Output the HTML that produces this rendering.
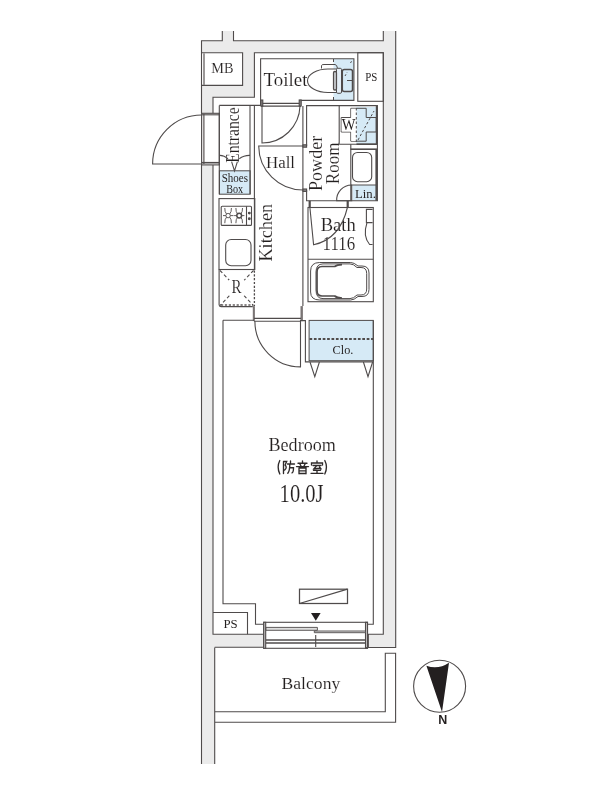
<!DOCTYPE html>
<html><head><meta charset="utf-8"><style>
html,body{margin:0;padding:0;background:#fff;width:600px;height:800px;overflow:hidden}
svg{display:block;will-change:transform}
text{font-family:"Liberation Serif",serif;fill:#231f1f}
text.t{stroke:#fff;stroke-width:0.12px}
</style></head><body>
<svg width="600" height="800" viewBox="0 0 600 800">
<g id="fills">
<path fill="#ebebeb" d="M201.5,40.8H222.3V31H233.5V40.8H383.3V31H395.7V647.5H368.3V634.2H383.3V52.7H254.4V97.3H213V634.2H263.7V647.5H214.7V764H201.5Z"/>
<rect x="201.5" y="52.7" width="41.1" height="32.7" fill="#fff"/>
<rect x="201.5" y="113.3" width="17.8" height="51.6" fill="#fff"/>
</g>
<!-- blue fills -->
<g fill="#d6eaf6" stroke="#4f4b4b" stroke-width="1">
<rect x="219.4" y="170.8" width="30.8" height="23.4"/>
<rect x="309.1" y="320.4" width="64.2" height="40.3"/>
<rect x="352.5" y="185" width="24.5" height="15.3" stroke="none"/>
<line x1="351" y1="185" x2="377" y2="185" stroke-width="1"/>
<rect x="333.5" y="59" width="20.4" height="41.4" stroke="none"/>
<rect x="356.3" y="107" width="20.4" height="36.8" stroke="none"/>
</g>
<g fill="none" stroke="#4f4b4b" stroke-width="1.1">
<!-- outer lines -->
<path d="M222.3,31V40.8H201.5V113.3M201.5,164.9V764"/>
<path d="M233.5,31V40.8H383.3V31"/>
<path d="M395.7,31V647.5H368.3V634.2H383.3V52.7H254.4V97.3H213V113.3M213,164.9V634.2H263.7V647.3H214.7"/>
<!-- MB -->
<path d="M201.5,52.7H242.6V85.4H201.5"/>
<line x1="204" y1="53.3" x2="204" y2="85" stroke="#8a8686" stroke-width="1.7"/>
<!-- toilet room -->
<path d="M260.6,105.4V58.8H353.9V100.4H299.5"/>
<line x1="260.6" y1="100" x2="260.6" y2="105.4"/>
<!-- PS top -->
<rect x="357.8" y="52.7" width="25.5" height="48.6"/>
<!-- entrance door frame -->
<rect x="201.6" y="113.3" width="17.7" height="51.6"/>
<line x1="203.8" y1="114" x2="203.8" y2="164" stroke="#8a8686" stroke-width="1.8"/>
<line x1="202" y1="114.8" x2="219" y2="114.8"/>
<line x1="202" y1="162.7" x2="219" y2="162.7" stroke-width="1.6"/>
<path d="M201.6,164H152.6A49,49 0 0 1 201.6,115"/>
<!-- entrance room -->
<path d="M219.3,105.4H260.6"/>
<path d="M219.3,105.4V194.2"/>
<line x1="250" y1="105.4" x2="250" y2="194"/>
<line x1="254.4" y1="105.4" x2="254.4" y2="269.5"/>
<path d="M219.4,155.4Q224,155.2 228,158.8M250,155.4Q244,155.2 239.2,158.8M231.6,161.6L234.5,170.8L237.4,161.6"/>
<!-- toilet door -->
<line x1="261" y1="103.4" x2="301" y2="103.4"/>
<line x1="261" y1="106.1" x2="301" y2="106.1"/>
<rect x="260.8" y="100" width="2" height="6" fill="#8a8686"/>
<rect x="299.2" y="100" width="2" height="6" fill="#8a8686"/>
<path d="M262,106.1V143A38,38 0 0 0 300,106.1"/>
<!-- powder room -->

<path d="M306.6,146V105.6H377.4V200.8H306.6V190"/>
<path d="M302.9,106.1V306.1"/>
<path d="M303,146H258.7A44.3,44.3 0 0 0 303,190"/>
<rect x="303" y="144.8" width="3.6" height="2.4" fill="#8a8686"/>
<rect x="303" y="189" width="3.6" height="2.4" fill="#8a8686"/>
<!-- right outer inner line at 383.3 beyond PS -->
<!-- W box -->
<path d="M339.2,105.6V144.2H377"/>
<line x1="376.7" y1="106" x2="376.7" y2="144" stroke-width="1.8"/>
<!-- Lin cabinet -->
<path d="M350.8,144.2V200.8"/>
<line x1="350.5" y1="149.2" x2="377" y2="149.2" stroke-width="1.6"/>
<line x1="376.3" y1="149" x2="376.3" y2="200.8" stroke-width="1.8"/>
<line x1="356.5" y1="144.2" x2="377" y2="144.2" stroke-width="1.6"/>
<rect x="352.5" y="152.5" width="19.2" height="29.2" rx="5"/>
<path d="M351.7,185V200.8H336.7A15,15 0 0 1 351.7,185"/>
<!-- bath -->
<path d="M309.7,200.8V207.5M347.7,200.8V207.5" stroke-width="2.2"/>
<rect x="308" y="207.5" width="65.3" height="94.2"/>
<line x1="308" y1="259.2" x2="373.3" y2="259.2"/>
<path d="M309.9,207.5L313.6,244.75Q340,239 347.4,207.5"/>
<path d="M372.6,209.4H366.4V222.6H372.6M367,222.6Q362.5,236 369.6,244.5H372.6"/>
<path d="M310.6,292V271Q310.6,262.5 319.7,262.5H350.7Q354,262.5 358,266H362Q369,266 369,273V289.5Q369,296.5 362,296.5H358Q354,300 350.7,300H319.7Q310.6,300 310.6,292Z" stroke-width="1"/>
<path d="M316,290V272Q316,263.9 323,263.9H350Q353.5,263.9 357,267.5H361Q366.7,267.5 366.7,273.5V289Q366.7,295 361,295H357Q353.5,298.6 350,298.6H323Q316,298.6 316,290Z" stroke-width="1"/>
<path d="M342,264.6Q337,264.6 334.7,266.5H322Q317,266.5 317,272V290.5Q317,296 322,296H334.7Q337,298 342,298" stroke-width="1.7"/>
<!-- kitchen -->
<rect x="219" y="198.6" width="35.8" height="70.9"/>
<rect x="221.2" y="206.3" width="30.3" height="19.1" rx="1"/>
<line x1="246.5" y1="206.3" x2="246.5" y2="225.4"/>
<circle cx="249.3" cy="213.1" r="0.9" fill="#3a3636"/><circle cx="249.3" cy="218.8" r="0.9" fill="#3a3636"/>
<g stroke-width="0.9">
<circle cx="228.1" cy="215.6" r="2.2"/><circle cx="239.2" cy="215.6" r="2.4" stroke-width="1.5"/>
<path d="M224.8,208Q224.6,212 226.5,214M231.4,208Q231.6,212 229.7,214M224.8,223.2Q224.6,219.2 226.5,217.2M231.4,223.2Q231.6,219.2 229.7,217.2M223,215.6H225.9M230.3,215.6H233.5"/>
<path d="M235.9,208Q235.7,212 237.6,214M242.5,208Q242.7,212 240.8,214M235.9,223.2Q235.7,219.2 237.6,217.2M242.5,223.2Q242.7,219.2 240.8,217.2M234.1,215.6H236.8M241.6,215.6H244.4"/>
</g>
<rect x="225.7" y="239.5" width="25.3" height="26.2" rx="5.5"/>
<path d="M219.1,269.5V304.7Q219.1,306.6 221,306.6H252.8"/>
<path d="M254.4,270.5V306" stroke-dasharray="2.2,1.6" stroke-width="1.3"/>
<path d="M221,305H253" stroke="#8a8686" stroke-dasharray="2.2,1.7" stroke-width="1.8"/>
<path d="M220,270.5L253.5,305.5M253.5,270.5L220,305.5" stroke-dasharray="3.4,2.4" stroke-width="1.1"/>
<rect x="229" y="280" width="15.5" height="15.5" fill="#fff" stroke="none"/>
<!-- bedroom door -->
<rect x="252.8" y="306.1" width="2.1" height="15" fill="#7a7575" stroke="none"/>
<rect x="300.5" y="306.1" width="2.4" height="15" fill="#7a7575" stroke="none"/>
<line x1="254" y1="318.4" x2="301" y2="318.4"/>
<line x1="254" y1="321.3" x2="301" y2="321.3"/>
<path d="M254.9,321.3A45.6,45.6 0 0 0 300.5,366.9V320.6H305.4V361.9H373.3"/>
<!-- bedroom -->
<path d="M223,320.3H254M223,320.3V603.8H255.5V624.3H263.7"/>
<path d="M373.3,320.5V624.3H367.5"/>
<path d="M310,362L314.8,376.6L319.4,362M363.4,362L368,376.6L372.6,362"/>
<rect x="299.5" y="589.2" width="48" height="14.3" stroke-width="1.25"/>
<line x1="299.5" y1="603.5" x2="347.5" y2="589.2" stroke-width="1.25"/>
<!-- PS bottom -->
<path d="M213,612.5H247.5V634.2"/>
<!-- window -->
<rect x="263.7" y="622.3" width="103.8" height="26"/>
<rect x="263.7" y="622.3" width="2" height="26" fill="#c8c6c6"/>
<rect x="365.5" y="622.3" width="2" height="26" fill="#c8c6c6"/>
<path d="M266,627.4H317.4V630.3H266Z" fill="#dedede" stroke-width="0.9"/><path d="M314.3,631H365.5V632.7H314.3Z" fill="#dedede" stroke-width="0.9"/>
<line x1="266" y1="640" x2="365.5" y2="640" stroke-width="1.6"/>
<line x1="266" y1="643" x2="365.5" y2="643" stroke-width="1.3"/>
<line x1="315.7" y1="635" x2="315.7" y2="647"/>
<!-- balcony -->
<path d="M214.7,647.5V764M214.7,711.8H385.3V653.3H395.6V722.3H214.7"/>
<!-- compass -->
<circle cx="439.6" cy="686.2" r="26" stroke-width="1.1"/>
</g>
<!-- closet dashed -->
<line x1="309.5" y1="339" x2="373" y2="339" stroke="#4f4b4b" stroke-width="1.8" stroke-dasharray="2.7,1.7"/>
<!-- W cross -->
<path fill="none" stroke="#4f4b4b" stroke-width="1" d="M350.8,108.3H366.2V117.5H376.2V132H366.2V141.2H350.8V132H341.2V117.5H350.8Z"/>
<path fill="#fff" d="M351.3,108.8H356.2V141H351.3V131.5H341.7V118H351.3Z"/>
<path fill="none" stroke="#4f4b4b" stroke-width="1" stroke-dasharray="2.5,2" d="M356.3,108V144M358,140L374,111"/>
<!-- toilet fixture -->
<g fill="none" stroke="#4f4b4b" stroke-width="1">
<path d="M337,69H328A20.5,11.75 0 0 0 328,92.5H337" fill="#fff" stroke-width="1.1"/>
<path d="M321.5,68.5V65.5Q321.5,64.5 324,64.5H335Q337,64.5 337.5,68.5"/>
<rect x="336.5" y="68.3" width="5" height="25" rx="1.2" fill="#e4eef6"/>
<rect x="333.6" y="71.5" width="2.8" height="18.5" rx="1.2" stroke-width="1.4" fill="#e8eef3"/>
<path d="M350.5,63L352,60.5M345,76L347,72.5" stroke-dasharray="2,1.5"/>
<rect x="342.3" y="69.5" width="10.2" height="22" rx="2" stroke-width="1.5"/>
<line x1="347" y1="80.5" x2="352.5" y2="80.5"/>
<path d="M333.5,59V62M333.5,97V100" />
</g>
<path fill="#231f20" d="M311,613H320.6L315.8,620.7Z"/>
<!-- compass needle -->
<path fill="#231f20" d="M426.4,665.7Q438,670 449,662.7L442,712Z"/>
<!-- texts -->
<text class="t" x="211.3" y="73.3" font-size="14.6" textLength="22.2" lengthAdjust="spacingAndGlyphs">MB</text>
<text class="t" x="263.6" y="85.5" font-size="18.3" textLength="43.8" lengthAdjust="spacingAndGlyphs">Toilet</text>
<text x="365.2" y="80.8" font-size="11.8" textLength="12.1" lengthAdjust="spacingAndGlyphs">PS</text>
<text x="223.4" y="627.5" font-size="12" textLength="14.2" lengthAdjust="spacingAndGlyphs">PS</text>
<text x="341.7" y="130.4" font-size="16.5" textLength="13.7" lengthAdjust="spacingAndGlyphs">W</text>
<text x="221.75" y="181.6" font-size="11.8" textLength="26.25" lengthAdjust="spacingAndGlyphs">Shoes</text>
<text x="226.25" y="192.5" font-size="11.8" textLength="16.85" lengthAdjust="spacingAndGlyphs">Box</text>
<text class="t" x="268.5" y="450.6" font-size="18.5" textLength="67.3" lengthAdjust="spacingAndGlyphs">Bedroom</text>
<text class="t" x="279.6" y="501.7" font-size="24.5" textLength="44" lengthAdjust="spacingAndGlyphs">10.0J</text>
<text class="t" x="281.5" y="689" font-size="17.5" textLength="58.8" lengthAdjust="spacingAndGlyphs">Balcony</text>
<text class="t" x="320.7" y="231" font-size="18" textLength="35.1" lengthAdjust="spacingAndGlyphs">Bath</text>
<text class="t" x="322.6" y="250.4" font-size="18.5" textLength="32.5" lengthAdjust="spacingAndGlyphs">1116</text>
<text x="332.6" y="353.7" font-size="13" textLength="20.7" lengthAdjust="spacingAndGlyphs">Clo.</text>
<text x="355" y="197.5" font-size="12.5" textLength="20.8" lengthAdjust="spacingAndGlyphs">Lin.</text>
<text class="t" x="231.4" y="293.4" font-size="18" textLength="10" lengthAdjust="spacingAndGlyphs">R</text>
<text class="t" x="266" y="168" font-size="17.5" textLength="29" lengthAdjust="spacingAndGlyphs">Hall</text>
<text class="t" transform="translate(239.4,162.8) rotate(-90)" font-size="18.2" textLength="55.4" lengthAdjust="spacingAndGlyphs">Entrance</text>
<text class="t" transform="translate(271.5,261.6) rotate(-90)" font-size="18" textLength="57.8" lengthAdjust="spacingAndGlyphs">Kitchen</text>
<text class="t" transform="translate(321.8,191) rotate(-90)" font-size="17.8" textLength="55.3" lengthAdjust="spacingAndGlyphs">Powder</text>
<text class="t" transform="translate(339.3,184.2) rotate(-90)" font-size="18.3" textLength="41.6" lengthAdjust="spacingAndGlyphs">Room</text>
<text x="442.8" y="724" font-size="12.5" font-weight="bold" text-anchor="middle" style="font-family:'Liberation Sans',sans-serif">N</text>
<!-- 防音室 -->
<g fill="none" stroke="#2f2b2b" stroke-width="1.35" stroke-linecap="round">
<path d="M279.8,460.5Q276.5,467 279.8,474"/>
<path d="M324.8,460.5Q328.1,467 324.8,474"/>
<g transform="translate(281.5,461)">
<path d="M2,0.5V12.5M2,0.5H5.2L3.6,4Q6,6.5 3.2,9"/>
<path d="M9,0V1.8M6,3H13M8.3,3Q8.3,10 6.3,12.3M8.3,6.7H12Q12,11.5 10.5,11.8"/>
</g>
<g transform="translate(296,461)">
<path d="M6.5,0V1.6M2,2.2H11M4,3.2L5,5M9,3.2L8,5M0.5,5.6H12.5M3,7V12.7M3,7H10V12.7M3,9.8H10M3,12.5H10"/>
</g>
<g transform="translate(310.5,461)">
<path d="M6.5,0V1.5M1,4V2H12V4M2.5,4.5H10.5M6.3,4.6L3.5,7.6L10,7.2M9,6L10.6,8M3,9.2H10M6.5,7.6V12.2M0.5,12.3H12.5"/>
</g>
</g>
</svg>
</body></html>
